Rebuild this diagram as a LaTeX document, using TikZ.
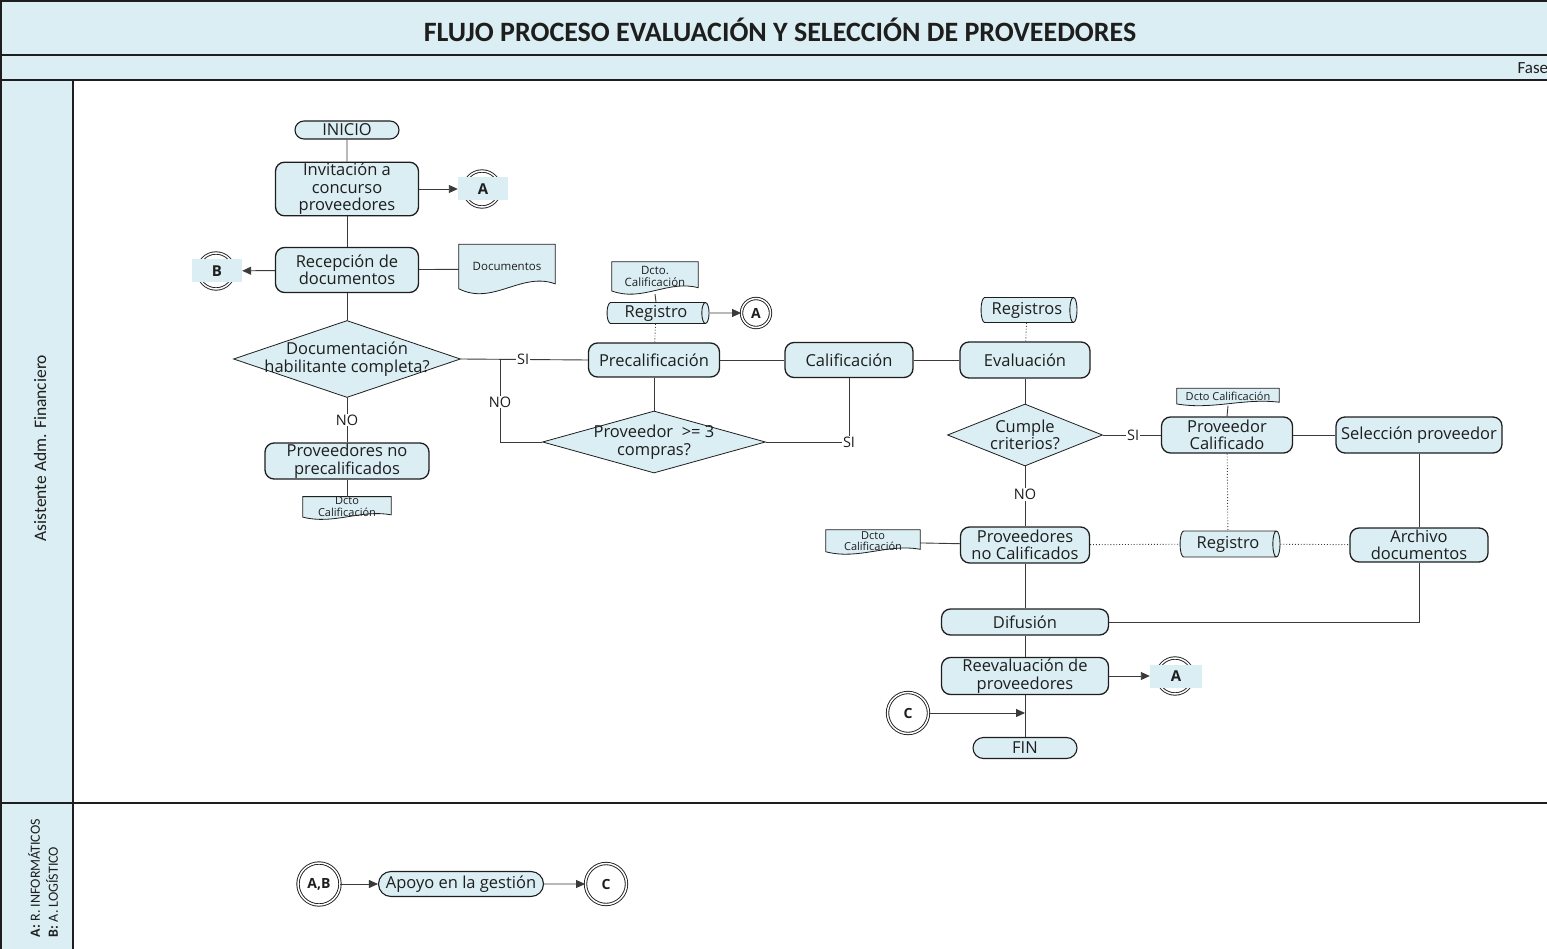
\documentclass[tikz,border=0pt]{standalone}
\usepackage{fontspec}
\setmainfont{Open Sans}
\newfontfamily\calib{Carlito}
\usetikzlibrary{shapes.geometric,shapes.misc,arrows.meta,calc,backgrounds}
\definecolor{paleblue}{HTML}{DAEEF3}
\definecolor{ink}{HTML}{1E1E1E}
\definecolor{wirec}{HTML}{3A3A3A}

% wavy-bottom document outline around a named node
\newcommand\docoutline[1]{%
  \draw[draw=ink, fill=paleblue, line width=0.8pt]
    let \p1=(#1.south west), \p2=(#1.north east),
        \n1={\x2-\x1}, \n2={\y2-\y1} in
    (\x1,\y2) -- (\x2,\y2) -- (\x2,{\y1+0.2*\n2})
    .. controls ({\x2-0.35*\n1},{\y1+0.45*\n2}) and ({\x1+0.35*\n1},{\y1-0.25*\n2})
    .. (\x1,{\y1+0.1*\n2}) -- cycle;}

\begin{document}
\begin{tikzpicture}[x=1pt,y=-1pt,
  every node/.style={font=\fontsize{16.5}{17.5}\selectfont, text=ink},
  box/.style={draw=ink, line width=1.3pt, fill=paleblue, rounded corners=9pt,
              align=center, inner sep=1pt},
  term/.style={draw=ink, line width=1.1pt, fill=paleblue, rounded rectangle,
               inner sep=1pt},
  ask/.style={diamond, draw=ink, line width=0.8pt, fill=paleblue, inner sep=0pt},
  asktext/.style={align=center},
  % across-axis size is the minimum width, along-axis size the minimum height
  store/.style={cylinder, shape border rotate=0, shape aspect=0.45, draw=ink,
                line width=0.9pt, cylinder uses custom fill,
                cylinder body fill=paleblue, cylinder end fill=paleblue, inner sep=0pt},
  link/.style={circle, draw=ink, double=white, double distance=1.5pt,
               line width=0.9pt, fill=white, inner sep=0pt,
               font=\bfseries\fontsize{14}{14}\selectfont},
  tag/.style={fill=paleblue, inner sep=0pt, font=\bfseries\fontsize{15}{15}\selectfont},
  docnode/.style={align=center, inner sep=0pt},
  wire/.style={draw=wirec, line width=0.9pt},
  arrow/.style={wire, -{Triangle[length=9pt,width=8pt]}},
  dots/.style={draw=wirec, line width=0.9pt, dotted},
  yn/.style={fill=white, inner sep=1pt, font=\fontsize{14.5}{14.5}\selectfont},
  frame/.style={draw=ink, line width=2.2pt},
]
\useasboundingbox (0,0) rectangle (1547,949);

% ---------- bands and lanes ----------
\fill[paleblue] (0,0) rectangle (1547,80);
\fill[paleblue] (0,80) rectangle (73,949);
\draw[frame] (0,1.1) -- (1547,1.1);
\draw[frame] (0,55) -- (1547,55);
\draw[frame] (0,80) -- (1547,80);
\draw[frame] (1.1,0) -- (1.1,949);
\draw[draw=ink, line width=1.3pt] (73,80) -- (73,949);
\draw[draw=ink, line width=1.3pt] (0,803) -- (1547,803);

\node[font=\calib\bfseries\fontsize{28}{28}\selectfont] (title) at (780,30)
  {FLUJO PROCESO EVALUACIÓN Y SELECCIÓN DE PROVEEDORES};
\node[font=\calib\fontsize{17}{17}\selectfont, anchor=west] (phase) at (1514,68) {Fase};
\node[font=\calib\fontsize{17.5}{17.5}\selectfont, rotate=90] (lane1) at (40,448)
  {Asistente Adm. Financiero};
\node[font=\calib\fontsize{14}{18}\selectfont, rotate=90, align=left] (lane2) at (43,878)
  {\textbf{A:} R. INFORMÁTICOS\\\textbf{B:} A. LOGÍSTICO};

% ---------- left column ----------
\node[term, minimum width=106, minimum height=18] (ini) at (347,130) {INICIO};
\node[box, minimum width=143, minimum height=50] (inv) at (347,189)
  {Invitación a\\concurso\\proveedores};
\node[link, minimum size=36] (offA1c) at (482,189) {};
\node[tag, minimum width=50, minimum height=23] (offA1) at (483,189) {A};

\node[box, minimum width=143, minimum height=45] (rec) at (347,270)
  {Recepción de\\documentos};
\node[link, minimum size=36] (offBc) at (216,271) {};
\node[tag, minimum width=50, minimum height=23] (offB) at (217,271) {B};
\node[docnode, minimum width=96, minimum height=49,
      font=\fontsize{11.5}{13}\selectfont] (docs) at (507,269)
  {\raisebox{5pt}{Documentos}};

\node[ask, minimum width=227, minimum height=77,
      label={[asktext]center:Documentación\\habilitante completa?}] (dec1) at (347,359) {};
\node[box, minimum width=164, minimum height=36] (npre) at (347,461)
  {Proveedores no\\precalificados};
\node[docnode, minimum width=88, minimum height=22,
      font=\fontsize{11}{12}\selectfont] (dcto1) at (347,508)
  {\raisebox{3pt}{\shortstack{Dcto\\Calificación}}};

% ---------- middle column ----------
\node[box, minimum width=131, minimum height=34] (prec) at (654,360) {Precalificación};
\node[store, minimum height=102, minimum width=21] (reg1) at (656,313) {Registro};
\node[docnode, minimum width=86, minimum height=32,
      font=\fontsize{11.5}{13}\selectfont] (dcto2) at (655,278)
  {\raisebox{3pt}{\shortstack{Dcto.\\Calificación}}};
\node[link, minimum size=29] (ca1) at (756,313) {A};
\node[ask, minimum width=223, minimum height=62,
      label={[asktext]center:Proveedor~\ >= 3\\compras?}] (dec2) at (654,442) {};
\coordinate (jn) at (500,359);

\node[box, minimum width=128, minimum height=35] (cal) at (849,360) {Calificación};

% ---------- right column ----------
\node[box, minimum width=130, minimum height=36] (eva) at (1025,360) {Evaluación};
\node[store, minimum height=96, minimum width=25] (regs) at (1027,310) {Registros};
\node[ask, minimum width=155, minimum height=62,
      label={[asktext]center:Cumple\\criterios?}] (dec3) at (1025,435) {};
\node[box, minimum width=131, minimum height=36] (pcal) at (1227,435)
  {Proveedor\\Calificado};
\node[docnode, minimum width=102, minimum height=17,
      font=\fontsize{11}{12}\selectfont] (dcto3) at (1228,397)
  {\raisebox{2pt}{Dcto Calificación}};
\node[box, minimum width=166, minimum height=36] (sel) at (1419,435) {Selección proveedor};

\node[box, minimum width=129, minimum height=36] (pnc) at (1025,545)
  {Proveedores\\no Calificados};
\node[docnode, minimum width=94, minimum height=24,
      font=\fontsize{11}{12}\selectfont] (dcto4) at (873,542)
  {\raisebox{2pt}{\shortstack{Dcto\\Calificación}}};
\node[store, minimum height=100, minimum width=26] (reg2) at (1228,544) {Registro};
\node[box, minimum width=138, minimum height=34] (arch) at (1419,545)
  {Archivo\\documentos};

\node[box, minimum width=167, minimum height=26] (dif) at (1025,622) {Difusión};
\node[box, minimum width=167, minimum height=37] (reev) at (1025,676)
  {Reevaluación de\\proveedores};
\node[link, minimum size=36] (offA2c) at (1175,676) {};
\node[tag, minimum width=52, minimum height=23] (offA2) at (1176,676) {A};
\node[link, minimum size=41] (cC) at (908,713) {C};
\node[term, minimum width=106, minimum height=21] (fin) at (1025,748) {FIN};
\coordinate (cIn) at (reev.south |- cC);

% ---------- support lane ----------
\node[link, minimum size=42] (ab) at (319,884) {A,B};
\node[term, minimum width=167, minimum height=25] (apoyo) at (461,884) {Apoyo en la gestión};
\node[link, minimum size=41] (cC2) at (606,884) {C};

% document outlines sit behind their labels
\begin{pgfonlayer}{background}
  \docoutline{docs}
  \docoutline{dcto1}
  \docoutline{dcto2}
  \docoutline{dcto3}
  \docoutline{dcto4}
\end{pgfonlayer}

% ---------- connectors ----------
\draw[wire] (ini) -- (inv);
\draw[arrow] (inv) -- (offA1);
\draw[wire] (inv) -- (rec);
\draw[arrow] (rec) -- (offB);
\draw[wire] (rec) -- (docs);
\draw[wire] (rec) -- (dec1);
\draw[wire] (dec1) -- node[yn]{NO} (npre);
\draw[wire] (npre) -- (dcto1);
\draw[wire] (dec1.east) -- node[yn, pos=0.49]{SI} (prec.west);
\draw[wire] (jn) |- node[yn, pos=0.26]{NO} (dec2.west);
\draw[wire] (prec) -- (dec2);
\draw[wire] (dec2.east) -| node[yn, pos=0.5]{SI} (cal.south);
\draw[wire] (prec) -- (cal);
\draw[wire] (cal) -- (eva);
\draw[dots] (reg1) -- (prec);
\draw[wire] (dcto2.south) -- (reg1.north);
\draw[arrow] (reg1) -- (ca1);
\draw[dots] (regs) -- (eva);
\draw[wire] (eva) -- (dec3);
\draw[wire] (dec3) -- node[yn, pos=0.52]{SI} (pcal);
\draw[wire] (dcto3.south) -- (pcal.north);
\draw[wire] (pcal) -- (sel);
\draw[wire] (dec3) -- node[yn, pos=0.47]{NO} (pnc);
\draw[wire] (dcto4) -- (pnc);
\draw[dots] (pnc) -- (reg2);
\draw[dots] (pcal) -- (reg2);
\draw[dots] (reg2) -- (arch);
\draw[wire] (sel) -- (arch);
\draw[wire] (pnc) -- (dif);
\draw[wire] (arch.south) |- (dif.east);
\draw[wire] (dif) -- (reev);
\draw[arrow] (reev) -- (offA2);
\draw[wire] (reev) -- (fin);
\draw[arrow] (cC) -- (cIn);
\draw[arrow] (ab) -- (apoyo);
\draw[arrow] (apoyo) -- (cC2);
\end{tikzpicture}
\end{document}
